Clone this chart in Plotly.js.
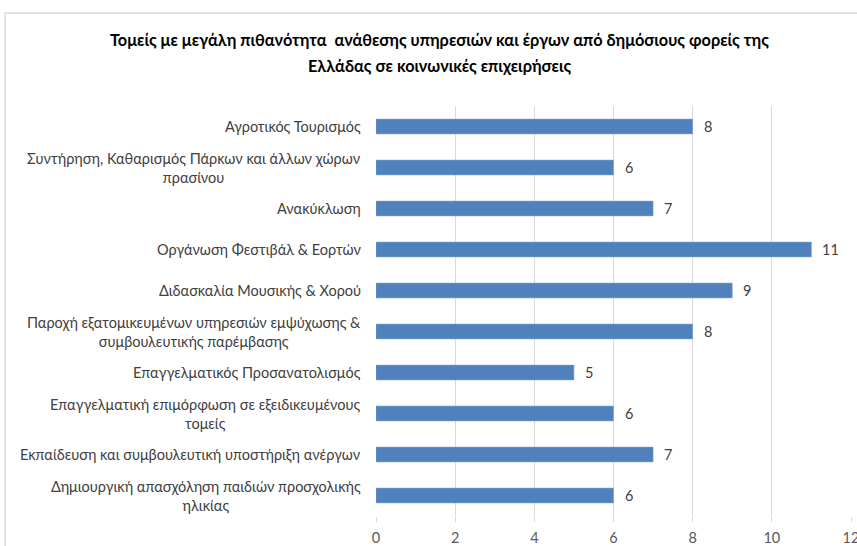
<!DOCTYPE html>
<html>
<head>
<meta charset="utf-8">
<script src="https://cdn.plot.ly/plotly-3.0.1.min.js"></script>
<style>html,body{margin:0;padding:0;background:#fff;}#chart{width:857px;height:546px;}</style>
</head>
<body>
<div id="chart"></div>
<script>
const categories = [
  "Αγροτικός Τουρισμός",
  "Συντήρηση, Καθαρισμός Πάρκων και άλλων χώρων<br>πρασίνου",
  "Ανακύκλωση",
  "Οργάνωση Φεστιβάλ & Εορτών",
  "Διδασκαλία Μουσικής & Χορού",
  "Παροχή εξατομικευμένων υπηρεσιών εμψύχωσης &<br>συμβουλευτικής παρέμβασης",
  "Επαγγελματικός Προσανατολισμός",
  "Επαγγελματική επιμόρφωση σε εξειδικευμένους<br>τομείς",
  "Εκπαίδευση και συμβουλευτική υποστήριξη ανέργων",
  "Δημιουργική απασχόληση παιδιών προσχολικής<br>ηλικίας"
];
const values = [8, 6, 7, 11, 9, 8, 5, 6, 7, 6];
const xTicks = [0, 2, 4, 6, 8, 10, 12];
const titleLines = [
  "Τομείς με μεγάλη πιθανότητα  ανάθεσης υπηρεσιών και έργων από δημόσιους φορείς της",
  "Ελλάδας σε κοινωνικές επιχειρήσεις"
];

const ids = categories.map((c, i) => "c" + i);
const font = "Lato, 'Open Sans', sans-serif";

const trace = {
  type: "bar",
  orientation: "h",
  y: ids,
  x: values,
  width: 0.36,
  marker: {color: "#4F81BD", line: {color: "#7EA3D3", width: 0.6}},
  hoverinfo: "none"
};

const annotations = categories.map((c, i) => ({
  xref: "paper", yref: "y", x: 0, y: ids[i],
  xanchor: "right", yanchor: "middle", xshift: -13,
  text: c, align: "center", showarrow: false,
  font: {family: font, size: 14.5, color: "#404040"}
}));
values.forEach((v, i) => annotations.push({
  xref: "x", yref: "y", x: v, y: ids[i],
  xanchor: "left", yanchor: "middle", xshift: 9,
  text: String(v), showarrow: false,
  font: {family: font, size: 14.5, color: "#404040"}
}));
annotations.push({
  xref: "paper", yref: "paper", x: 0.1347, y: 1.163, xanchor: "center", yanchor: "middle",
  text: "<b>" + titleLines[0] + "</b>", showarrow: false,
  font: {family: font, size: 16.3, color: "#000"}
});
annotations.push({
  xref: "paper", yref: "paper", x: 0.1347, y: 1.099, xanchor: "center", yanchor: "middle",
  text: "<b>" + titleLines[1] + "</b>", showarrow: false,
  font: {family: font, size: 16.3, color: "#000"}
});

const layout = {
  width: 857, height: 546,
  margin: {l: 376, r: 6, t: 106, b: 30, pad: 0},
  paper_bgcolor: "#fff", plot_bgcolor: "#fff",
  showlegend: false,
  bargap: 0.64,
  xaxis: {
    range: [0, 12], tickvals: xTicks, ticktext: xTicks.map(String),
    showgrid: true, gridcolor: "#D9D9D9", gridwidth: 1,
    zeroline: false, showline: false,
    ticks: "outside", ticklen: 5, tickcolor: "#D9D9D9",
    ticklabelstandoff: 4,
    ticklabeloverflow: "allow",
    tickfont: {family: font, size: 14.5, color: "#595959"},
    fixedrange: true
  },
  yaxis: {
    type: "category", categoryorder: "array", categoryarray: ids,
    autorange: "reversed", showticklabels: false, showgrid: false,
    zeroline: false, showline: false, ticks: ""
  },
  annotations: annotations,
  shapes: [
    {type: "line", xref: "paper", yref: "paper", x0: -0.781, x1: 1.02, y0: 1.2268, y1: 1.2268, line: {color: "#D9D9D9", width: 1.5}},
    {type: "line", xref: "paper", yref: "paper", x0: -0.781, x1: -0.781, y0: 1.2268, y1: -0.1, line: {color: "#D9D9D9", width: 1.5}}
  ]
};

Plotly.newPlot("chart", [trace], layout, {displayModeBar: false, staticPlot: true});
</script>
</body>
</html>
